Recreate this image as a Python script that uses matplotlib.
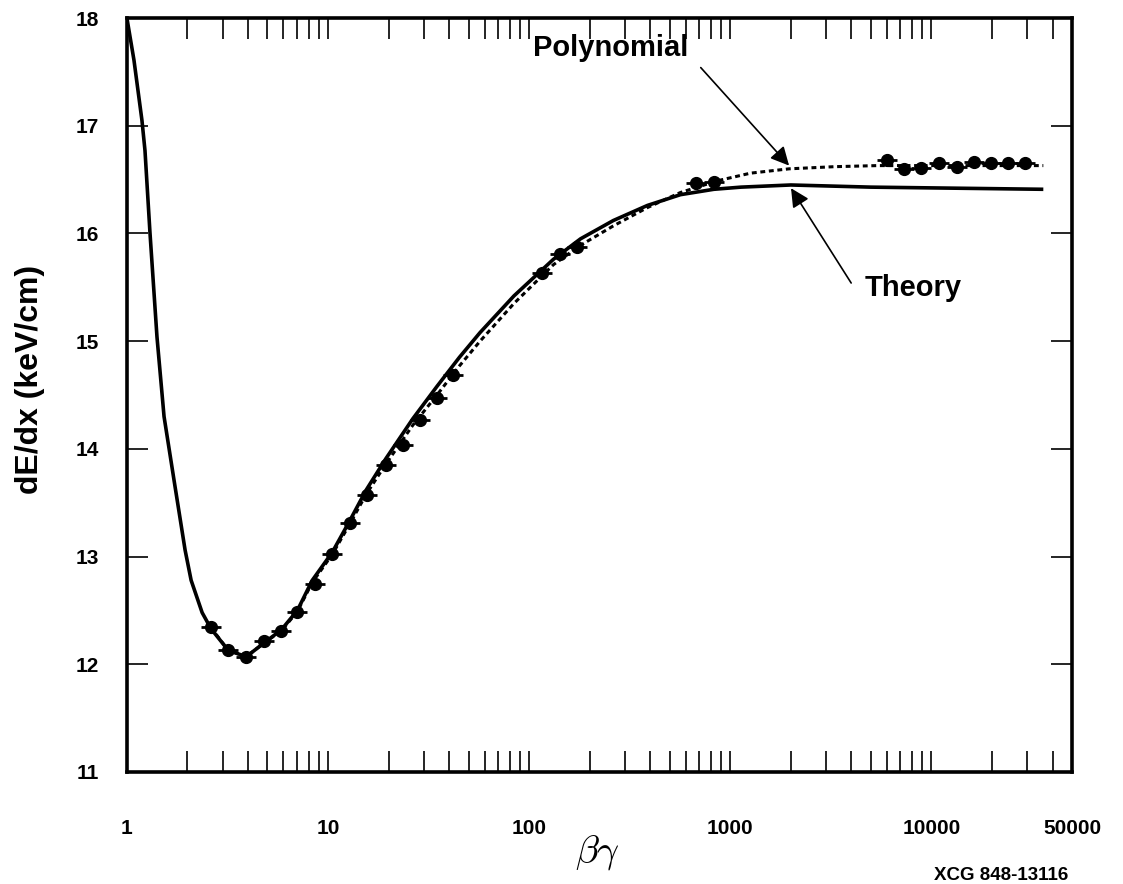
import matplotlib
matplotlib.use('Agg')
import matplotlib.pyplot as plt
from matplotlib.ticker import FixedLocator, NullFormatter

plt.rcParams['font.family'] = ['Liberation Sans', 'DejaVu Sans']
plt.rcParams['mathtext.fontset'] = 'cm'

# theory curve (solid)
theory_bg = [1.0, 1.084, 1.188, 1.23, 1.302, 1.411, 1.53, 1.715, 1.947, 2.086, 2.366,
             2.62, 3.19, 3.92, 4.82, 5.86, 7.04, 8.35, 10.5, 12.8, 15.5, 19.4, 26.4,
             34.8, 45, 57, 84, 132, 180, 262, 387, 565, 828, 1130, 2000, 5000, 36000]
theory_dedx = [18.0, 17.61, 17.05, 16.77, 16.01, 15.04, 14.30, 13.71, 13.06, 12.78, 12.48,
               12.33, 12.13, 12.07, 12.20, 12.32, 12.50, 12.78, 13.04, 13.33, 13.62, 13.91, 14.28,
               14.58, 14.85, 15.08, 15.42, 15.76, 15.95, 16.12, 16.26, 16.36, 16.41, 16.43, 16.45, 16.43, 16.41]

# polynomial fit (dotted)
poly_bg = [2.62, 3.19, 3.92, 4.82, 5.86, 7.04, 8.35, 10.5, 12.8, 15.5, 19.4, 26.4, 34.8,
           45, 57, 84, 132, 180, 262, 387, 565, 867, 1262, 1960, 3300, 5400, 36000]
poly_dedx = [12.34, 12.13, 12.07, 12.20, 12.31, 12.49, 12.76, 13.02, 13.30, 13.58, 13.86, 14.22, 14.50,
             14.77, 15.00, 15.35, 15.71, 15.89, 16.07, 16.24, 16.38, 16.49, 16.56, 16.60, 16.62, 16.63, 16.63]

# measured points
data_bg = [2.62, 3.19, 3.92, 4.82, 5.86, 7.04, 8.57, 10.5, 12.8, 15.7, 19.4, 23.5, 28.6, 34.8,
           41.8, 116, 143, 173, 673, 828, 6040, 7330, 8910, 10960, 13330, 16200, 19690, 23940, 29110]
data_dedx = [12.35, 12.13, 12.07, 12.22, 12.31, 12.49, 12.75, 13.02, 13.31, 13.57, 13.85, 14.04, 14.27, 14.47,
             14.69, 15.63, 15.81, 15.87, 16.47, 16.48, 16.68, 16.60, 16.61, 16.65, 16.62, 16.66, 16.65, 16.65, 16.65]

xticks = [1, 10, 100, 1000, 10000, 50000]
xlabels = ['1', '10', '100', '1000', '10000', '50000']
yticks = [11, 12, 13, 14, 15, 16, 17, 18]

fig = plt.figure(figsize=(11.23, 8.84), dpi=100)
ax = fig.add_axes([0.113, 0.1267, 0.8416, 0.8529])

ax.plot(theory_bg, theory_dedx, color='black', lw=2.6, solid_capstyle='butt', solid_joinstyle='round')
ax.plot(poly_bg, poly_dedx, color='black', lw=2.2, linestyle=(0, (1.6, 1.2)))
ax.plot(data_bg, data_dedx, linestyle='none', marker='o', ms=8.5, color='black')
ax.plot(data_bg, data_dedx, linestyle='none', marker='_', ms=15, mew=2, color='black')

ax.set_xscale('log')
ax.set_xlim(1, 50000)
ax.set_ylim(11, 18)

minors = [m * 10 ** d for d in range(0, 5) for m in range(2, 10) if m * 10 ** d < 50000]
ax.xaxis.set_major_locator(FixedLocator(xticks))
ax.xaxis.set_minor_locator(FixedLocator(minors))
ax.xaxis.set_minor_formatter(NullFormatter())
ax.set_xticklabels(xlabels)
ax.set_yticks(yticks)

ax.tick_params(axis='both', which='both', direction='in', top=True, right=True,
               length=15, width=1.2, labelsize=15)
ax.tick_params(axis='x', which='major', pad=34)
ax.tick_params(axis='y', which='major', pad=20)
for lab in ax.get_xticklabels() + ax.get_yticklabels():
    lab.set_fontweight('bold')

for s in ax.spines.values():
    s.set_linewidth(2.6)

fig.text(30 / 1123, 1 - 379 / 884, 'dE/dx (keV/cm)', rotation=90, ha='center',
         va='center', fontsize=23, fontweight='bold')
fig.text(597 / 1123, 1 - 852 / 884, r'$\beta\gamma$', ha='center', va='center', fontsize=28)
fig.text(1068 / 1123, 1 - 876 / 884, 'XCG 848-13116', ha='right', va='center',
         fontsize=13.5, fontweight='bold')

arrow = dict(arrowstyle='-|>', color='black', lw=1.2, mutation_scale=28, shrinkA=0, shrinkB=0)
ax.text(621, 17.72, 'Polynomial', ha='right', va='center', fontsize=21, fontweight='bold')
ax.annotate('', xy=(1960, 16.63), xytext=(713, 17.54), arrowprops=arrow)
ax.text(4634, 15.49, 'Theory', ha='left', va='center', fontsize=21, fontweight='bold')
ax.annotate('', xy=(2004, 16.42), xytext=(3990, 15.54), arrowprops=arrow)

fig.savefig('out.png', dpi=100)
